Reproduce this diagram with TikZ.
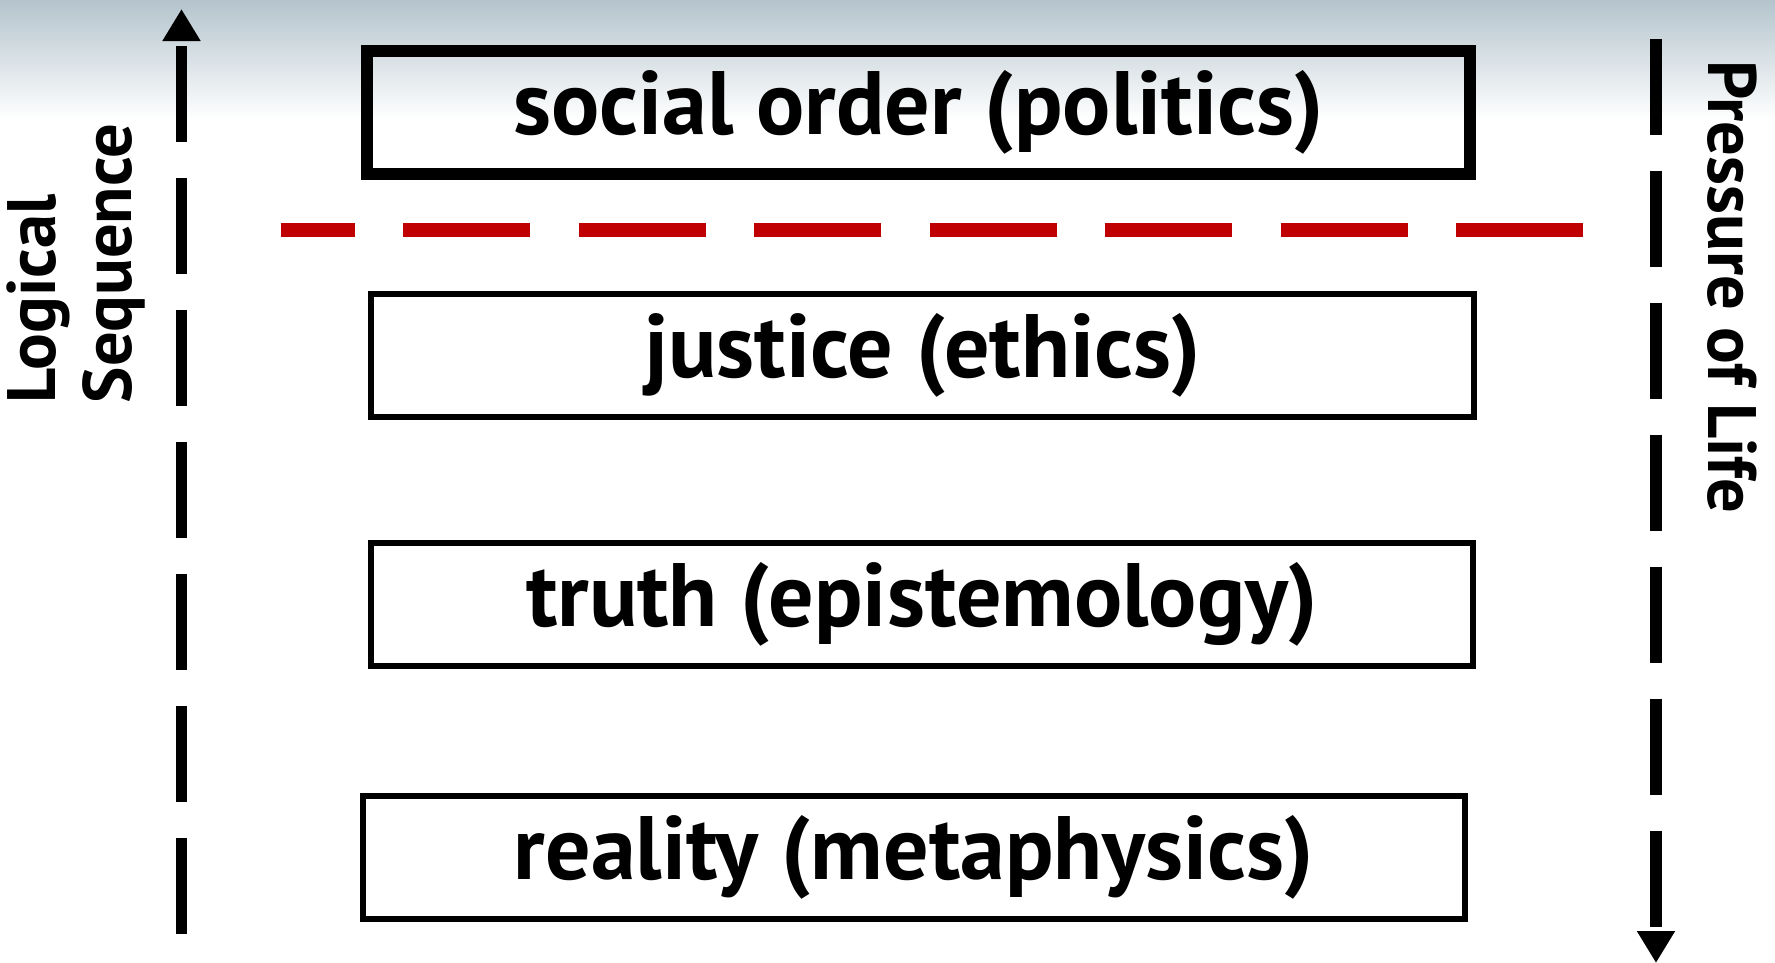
\documentclass[tikz,border=0pt]{standalone}
\usepackage{fontspec}
\setmainfont{PT Sans}
\usetikzlibrary{arrows.meta}

\definecolor{topgray}{RGB}{180,196,205}
\definecolor{cutred}{RGB}{192,0,0}

\begin{document}
\begin{tikzpicture}[
    x=0.1mm, y=-0.1mm,
    layer/.style={draw=black, line width=0.6mm, minimum width=110.3mm, minimum height=12.3mm, inner sep=0pt, font=\fontsize{25.6}{30}\selectfont\bfseries},
    flow/.style={line width=1.15mm, dash pattern=on 9.6mm off 3.6mm, -{Triangle[width=3.6mm,length=3.2mm]}},
    side/.style={inner sep=0pt, font=\fontsize{19.5}{21.6}\selectfont\bfseries}
]
    % Background
    \useasboundingbox (0,0) rectangle (1775,963);
    \fill[white] (0,0) rectangle (1775,963);
    \shade[top color=topgray, bottom color=white] (0,0) rectangle (1775,120);

    % Layers
    \node[layer, line width=1.2mm] (politics) at (918.5,112.5) {social order (politics)};
    \node[layer] (ethics) at (922.5,355.5) {justice (ethics)};
    \node[layer] (epistemology) at (922,604.5) {truth (epistemology)};
    \node[layer] (metaphysics) at (914,857) {reality (metaphysics)};

    % Cut line
    \coordinate (cutR) at (1583,229.5);
    \coordinate (cutL) at (281,229.5);
    \draw[cutred, line width=1.4mm, dash pattern=on 12.7mm off 4.85mm] (cutR) -- (cutL);

    % Arrows
    \coordinate (logicS) at (181.5,934);
    \coordinate (logicE) at (181.5,9);
    \draw[flow] (logicS) -- (logicE);
    \coordinate (lifeS) at (1656,39);
    \coordinate (lifeE) at (1656,963);
    \draw[flow] (lifeS) -- (lifeE);

    % Labels
    \node[side, rotate=90, anchor=west, align=left] (logic) at (76,404) {Logical\\Sequence};
    \node[side, rotate=-90, anchor=west] (life) at (1732,60) {Pressure of Life};
\end{tikzpicture}
\end{document}
